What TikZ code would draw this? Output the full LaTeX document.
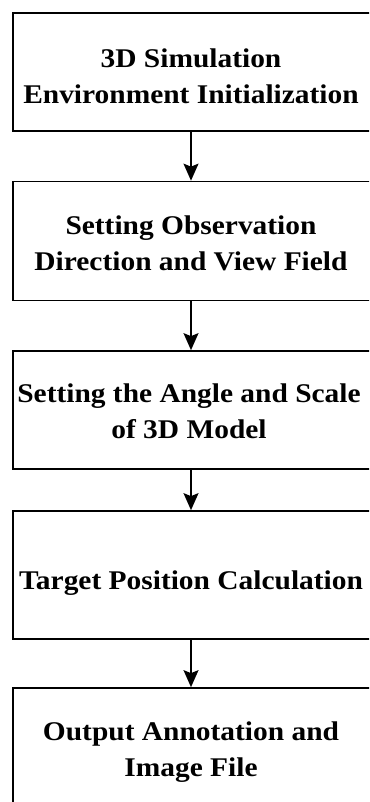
\documentclass[tikz,border=0pt]{standalone}
\usepackage{fontspec}
\setmainfont{Liberation Serif}
\newfontfamily\boxfont{Liberation Serif}[FakeStretch=1.09]
\usetikzlibrary{arrows.meta}
\begin{document}
\begin{tikzpicture}[x=1pt,y=-1pt,
  box/.style={draw=black,line width=1.7pt,rectangle,minimum width=359pt,inner sep=0pt},
  txt/.style={align=center,font=\boxfont\bfseries\fontsize{27}{36}\selectfont,inner sep=0pt,text depth=0pt},
  flow/.style={line width=1.6pt,-{Stealth[length=17pt,width=15pt,inset=3pt]}}]
\useasboundingbox (0,0) rectangle (369,802);
\clip (0,0) rectangle (369,802);
\node[box,minimum height=118pt] (b1) at (192.5,72) {};
\node[box,minimum height=119pt] (b2) at (192.5,241) {};
\node[box,minimum height=118pt] (b3) at (192.5,410) {};
\node[box,minimum height=128pt] (b4) at (192.5,575) {};
\node[box,minimum height=118pt] (b5) at (192.5,747) {};
\node[txt] (t1) at (191,76) {3D Simulation\\Environment Initialization};
\node[txt] (t2) at (191,243.5) {Setting Observation\\Direction and View Field};
\node[txt] (t3) at (189,411) {Setting the Angle and Scale\\of 3D Model};
\node[txt] (t4) at (191,580) {Target Position Calculation};
\node[txt] (t5) at (191,749.5) {Output Annotation and\\Image File};
\draw[flow] ([xshift=-1.5pt]b1.south) -- ([xshift=-1.5pt]b2.north);
\draw[flow] ([xshift=-1.5pt]b2.south) -- ([xshift=-1.5pt]b3.north);
\draw[flow] ([xshift=-1.5pt]b3.south) -- ([xshift=-1.5pt]b4.north);
\draw[flow] ([xshift=-1.5pt]b4.south) -- ([xshift=-1.5pt]b5.north);
\end{tikzpicture}
\end{document}
